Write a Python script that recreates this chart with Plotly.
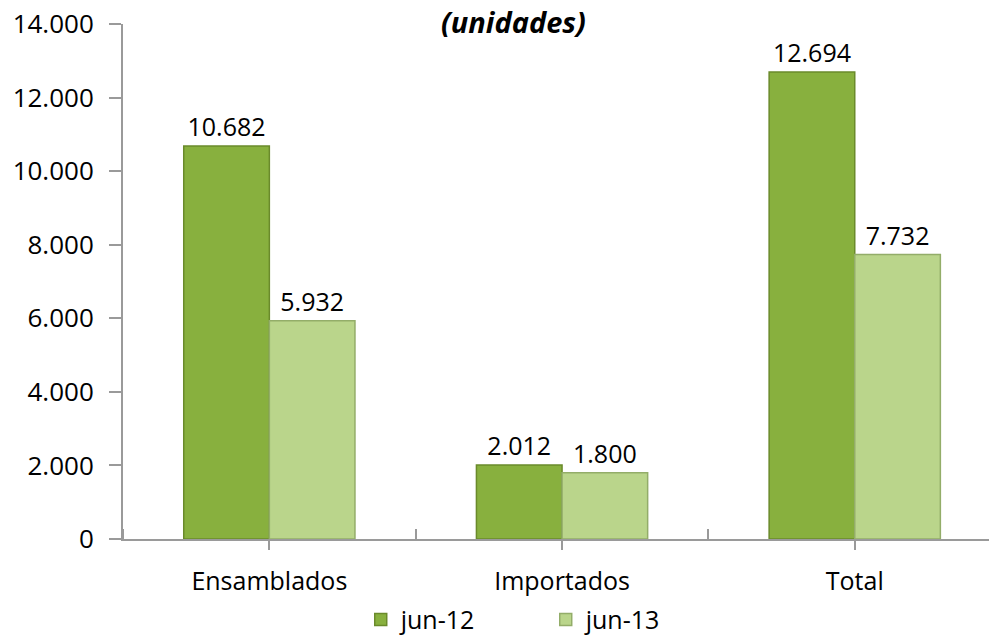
import plotly.graph_objects as go

categories = ["Ensamblados", "Importados", "Total"]
jun12 = [10682, 2012, 12694]
jun13 = [5932, 1800, 7732]
jun12_labels = ["10.682", "2.012", "12.694"]
jun13_labels = ["5.932", "1.800", "7.732"]
ytick_vals = [0, 2000, 4000, 6000, 8000, 10000, 12000, 14000]
ytick_text = ["0", "2.000", "4.000", "6.000", "8.000", "10.000", "12.000", "14.000"]

FONT = "Open Sans, Noto Sans, sans-serif"
AXIS = "#9a9a9a"

x = list(range(len(categories)))

fig = go.Figure()
fig.add_trace(go.Bar(
    x=x, y=jun12, name="jun-12",
    marker=dict(color="#88b03e", line=dict(color="#6a8a2b", width=1.5)),
    text=jun12_labels, textposition="outside", cliponaxis=False,
    textfont=dict(family=FONT, size=25, color="#000000"),
))
fig.add_trace(go.Bar(
    x=x, y=jun13, name="jun-13",
    marker=dict(color="#bad58b", line=dict(color="#93ad69", width=1.5)),
    text=jun13_labels, textposition="outside", cliponaxis=False,
    textfont=dict(family=FONT, size=25, color="#000000"),
))

# page has an 8px body margin, so the figure is sized to fit the window
fig.update_layout(
    width=989, height=628,
    margin=dict(l=115, r=0, t=16, b=97, autoexpand=False),
    paper_bgcolor="white", plot_bgcolor="white",
    barmode="group", bargap=0.415, bargroupgap=0,
    font=dict(family=FONT, size=25, color="#000000"),
    showlegend=True,
    legend=dict(
        orientation="h", x=0.272, xanchor="left", y=-0.157, yanchor="middle",
        font=dict(family=FONT, size=25, color="#000000"),
        entrywidth=140, entrywidthmode="pixels",
        bgcolor="rgba(0,0,0,0)",
    ),
    annotations=[dict(
        text="<b><i>(unidades)</i></b>",
        xref="paper", yref="paper", x=0.447, y=1.047,
        xanchor="center", yanchor="top", showarrow=False,
        font=dict(family=FONT, size=29, color="#000000"),
    )],
)

fig.update_xaxes(
    range=[-0.5, 2.486], automargin=False,
    tickmode="array", tickvals=x, ticktext=categories,
    ticks="outside", ticklen=9, tickwidth=2, tickcolor=AXIS,
    ticklabelstandoff=10,
    minor=dict(ticks="inside", tick0=-0.5, dtick=1, ticklen=10, tickwidth=2, tickcolor=AXIS),
    showline=True, linecolor=AXIS, linewidth=2,
    showgrid=False, zeroline=False,
    tickfont=dict(family=FONT, size=25, color="#000000"),
)
fig.update_yaxes(
    range=[0, 14000], automargin=False,
    tickmode="array", tickvals=ytick_vals, ticktext=ytick_text,
    ticks="outside", ticklen=12, tickwidth=2, tickcolor=AXIS,
    ticklabelstandoff=10, ticklabeloverflow="allow",
    showline=True, linecolor=AXIS, linewidth=2,
    showgrid=False, zeroline=False,
    tickfont=dict(family=FONT, size=26, color="#000000"),
)

fig.write_html("out.html")
